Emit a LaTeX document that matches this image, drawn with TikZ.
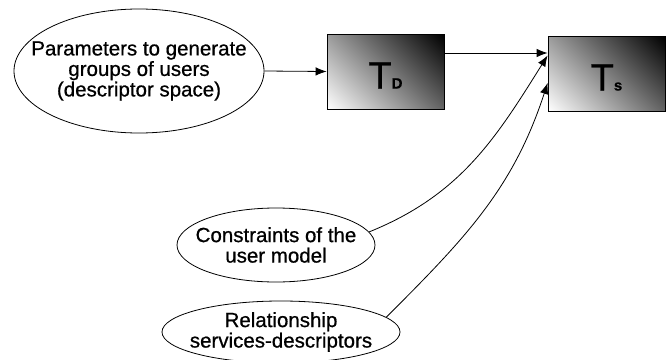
\documentclass[tikz,border=0pt]{standalone}
\usepackage{fontspec}
\setmainfont{Liberation Sans}
\newfontfamily\ovalfont{Liberation Sans}[FakeBold=0.7]
\usetikzlibrary{shapes.geometric,arrows.meta}

% white corner to black corner, spread over the whole diagonal
\pgfdeclareverticalshading{cornerfade}{100bp}{color(0bp)=(white);
  color(14.6bp)=(white); color(50bp)=(black!50); color(85.4bp)=(black);
  color(100bp)=(black)}

\tikzset{
  oval/.style={ellipse, draw, thick, inner sep=-25pt, align=center,
    font=\ovalfont\fontsize{20.5}{20.5}\selectfont},
  tbox/.style={draw, thick, minimum width=117pt, minimum height=75pt,
    shading=cornerfade, shading angle=-45},
  arr/.style={thick, -{Latex[length=11pt,width=8.5pt]}}
}

\begin{document}
\begin{tikzpicture}[x=1pt, y=-1pt]
  \useasboundingbox (0,0) rectangle (669,359);

  % Input descriptions
  \node[oval, minimum width=250pt, minimum height=124pt] (params) at (139,71)
    {Parameters to generate\\groups of users\\(descriptor space)};
  \node[oval, minimum width=198pt, minimum height=74pt] (constraints) at (276,245)
    {Constraints of the\\user model};
  \node[oval, minimum width=238pt, minimum height=62pt] (relation) at (281,332)
    {Relationship\\services-descriptors};

  % The two transforms
  \node[tbox] (boxD) at (385.5,71.5) {};
  \node[tbox] (boxS) at (606.5,73.5) {};
  \node at ([yshift=-4pt]boxD.center)
    {\ovalfont\fontsize{38}{38}\selectfont T\fontsize{15}{15}\selectfont\bfseries D};
  \node at ([yshift=-4pt]boxS.center)
    {\ovalfont\fontsize{38}{38}\selectfont T\fontsize{15}{15}\selectfont\bfseries s};

  % Connections
  \draw[arr] (params.east) -- (boxD.west);
  \draw[arr] ([yshift=18.5pt]boxD.east) -- ([yshift=18.5pt]boxD.east -| boxS.west);
  \draw[arr] (constraints.8) to[out=22, in=-122] ([yshift=18pt]boxS.west);
  \draw[arr] (relation.8) to[out=45, in=-108] ([yshift=-9.5pt]boxS.west);
\end{tikzpicture}
\end{document}
